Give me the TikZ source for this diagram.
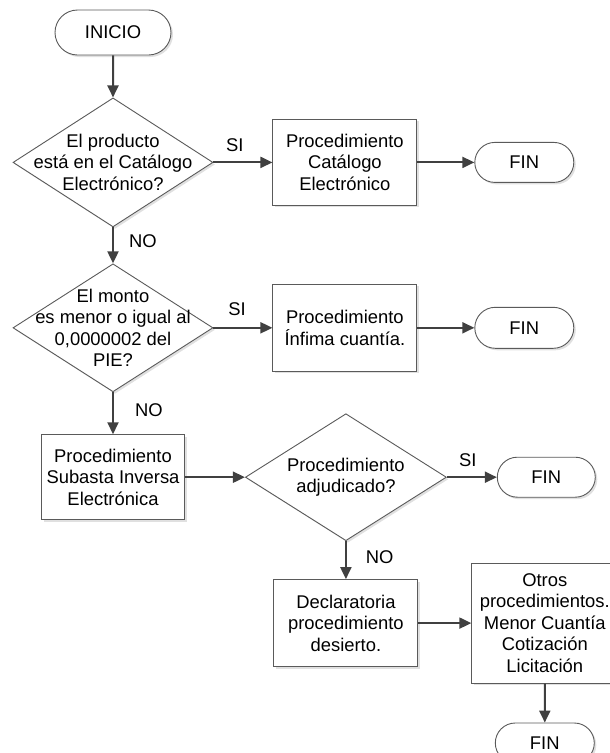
\documentclass[tikz,border=0pt]{standalone}
\usepackage{fontspec}
\setmainfont{Liberation Sans}
\usetikzlibrary{
    shapes.geometric, shapes.misc,
    arrows.meta, positioning, shadows
}
\definecolor{linegray}{HTML}{404040}
\definecolor{bordergray}{HTML}{5A5A5A}
\tikzset{
  fsize/.style={font=\fontsize{18.4}{21.5}\selectfont},
  base/.style={draw=bordergray, line width=0.9pt, fill=white, align=center,
               fsize, inner sep=0pt,
               drop shadow={shadow xshift=2pt, shadow yshift=-2pt,
                            fill=black, opacity=0.12}},
  term/.style={base, rounded rectangle, minimum width=99pt, minimum height=40pt},
  proc/.style={base, rectangle, minimum width=144pt, minimum height=86pt},
  dec/.style={base, diamond, minimum width=200pt, minimum height=128pt},
  txt/.style={align=center, fsize, inner sep=0pt},
}

\begin{document}
\begin{tikzpicture}[
  x=1pt, y=-1pt,
  arr/.style={-{Triangle[length=12pt, width=11pt]}, line width=2pt, draw=linegray},
  lbl/.style={fsize, inner sep=0pt}
]
  \useasboundingbox (0,0) rectangle (610,753);
  \node[term, minimum width=116pt, minimum height=45pt] (ini) at (113,32.5) {INICIO};
  \node[dec, minimum height=129pt, below=42pt of ini,
        label={[txt]center:{El producto\\está en el Catálogo\\Electrónico?}}] (cat) {};
  \node[proc, right=59pt of cat] (pcat) {Procedimiento\\Catálogo\\Electrónico};
  \node[term, right=57pt of pcat] (fin1) {FIN};
  \node[dec, below=36pt of cat,
        label={[txt]center:{El monto\\es menor o igual al\\0,0000002 del\\PIE?}}] (monto) {};
  \node[proc, minimum height=87pt, right=59pt of monto] (pinf) {Procedimiento\\Ínfima cuantía.};
  \node[term, minimum height=41pt, right=57pt of pinf] (fin2) {FIN};
  \node[proc, minimum width=143pt, minimum height=85pt, below=42pt of monto] (psie) {Procedimiento\\Subasta Inversa\\Electrónica};
  \node[dec, minimum width=201pt, minimum height=127pt, right=60pt of psie,
        label={[txt]center:{Procedimiento\\adjudicado?}}] (adj) {};
  \node[term, minimum width=98pt, right=50pt of adj] (fin3) {FIN};
  \node[proc, minimum height=87pt, below=38pt of adj] (desi) {Declaratoria\\procedimiento\\desierto.};
  \node[proc, minimum width=146pt, minimum height=120pt, right=53pt of desi] (otros) {Otros\\procedimientos.\\Menor Cuantía\\Cotización\\Licitación};
  \node[term, below=39pt of otros] (fin4) {FIN};
  \draw[arr] (ini) -- (cat);
  \draw[arr] (cat) -- node[lbl, above=10pt, pos=0.36] {SI} (pcat);
  \draw[arr] (pcat) -- (fin1);
  \draw[arr] (cat) -- node[lbl, right=15pt, pos=0.39] {NO} (monto);
  \draw[arr] (monto) -- node[lbl, above=11pt, pos=0.4] {SI} (pinf);
  \draw[arr] (pinf) -- (fin2);
  \draw[arr] (monto) -- node[lbl, right=21pt, pos=0.43] {NO} (psie);
  \draw[arr] (psie) -- (adj);
  \draw[arr] (adj) -- node[lbl, above=10pt, pos=0.42] {SI} (fin3);
  \draw[arr] (adj) -- node[lbl, right=19pt, pos=0.42] {NO} (desi);
  \draw[arr] (desi) -- (otros);
  \draw[arr] (otros) -- (fin4);
\end{tikzpicture}
\end{document}
